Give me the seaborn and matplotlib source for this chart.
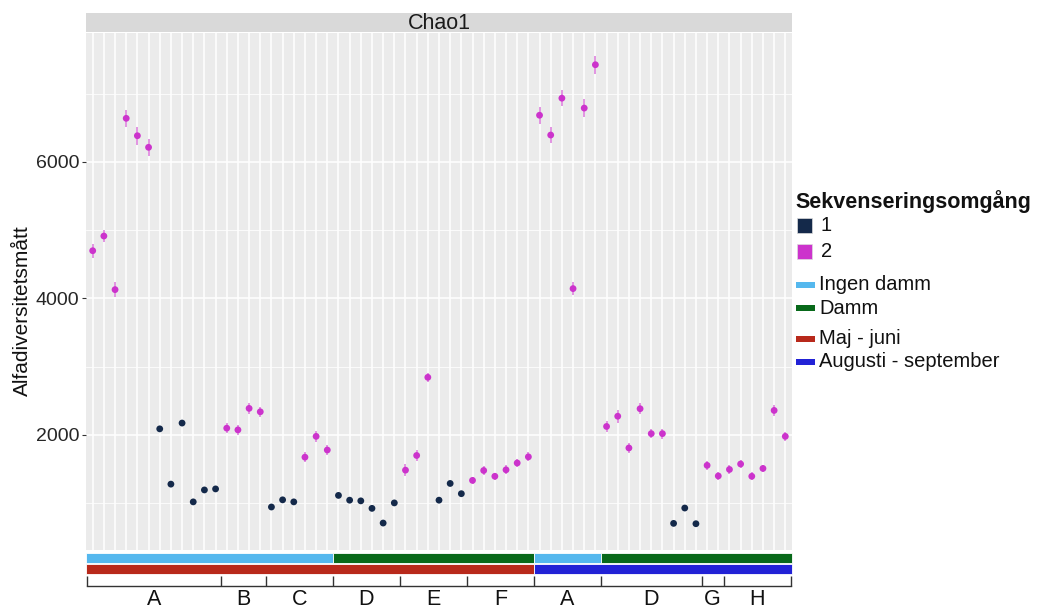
import numpy as np
import pandas as pd
import matplotlib
matplotlib.use("Agg")
import matplotlib.pyplot as plt
from matplotlib.patches import Rectangle
import seaborn as sns

# ---- data -----------------------------------------------------------------
groups = ["A", "B", "C", "D", "E", "F", "A", "D", "G", "H"]
group_sizes = [12, 4, 6, 6, 6, 6, 6, 9, 2, 6]

chao1 = [
    4700, 4915, 4130, 6640, 6385, 6215, 2090, 1280, 2175, 1020, 1195, 1210,  # A
    2100, 2075, 2390, 2340,                                                # B
    945, 1050, 1020, 1675, 1980, 1780,                                     # C
    1115, 1045, 1035, 925, 710, 1005,                                      # D
    1485, 1700, 2845, 1045, 1290, 1140,                                    # E
    1335, 1480, 1395, 1490, 1590, 1680,                                    # F
    6685, 6395, 6935, 4145, 6790, 7425,                                    # A
    2125, 2275, 1810, 2385, 2020, 2020, 705, 930, 700,                     # D
    1555, 1400,                                                            # G
    1495, 1575, 1395, 1510, 2360, 1980,                                    # H
]
chao1_se = [
    100, 90, 105, 125, 130, 125, 25, 25, 35, 20, 30, 30,
    75, 70, 85, 75,
    20, 25, 20, 75, 80, 70,
    25, 20, 20, 20, 20, 20,
    85, 80, 70, 20, 40, 25,
    55, 65, 55, 65, 60, 65,
    125, 120, 120, 100, 130, 135,
    80, 95, 75, 80, 70, 75, 20, 20, 20,
    65, 55,
    60, 65, 60, 55, 75, 65,
]
seq_round = (
    [2] * 6 + [1] * 6 +
    [2] * 4 +
    [1] * 3 + [2] * 3 +
    [1] * 6 +
    [2] * 3 + [1] * 3 +
    [2] * 6 +
    [2] * 6 +
    [2] * 6 + [1] * 3 +
    [2] * 2 +
    [2] * 6
)
# pond / season annotation rows: (label, number of samples)
pond_runs = [("Ingen damm", 22), ("Damm", 18), ("Ingen damm", 6), ("Damm", 23)]
season_runs = [("Maj - juni", 40), ("Augusti - september", 23)]

round_colors = {1: "#14294A", 2: "#CC33CC"}
pond_colors = {"Ingen damm": "#55B8EE", "Damm": "#08691A"}
season_colors = {"Maj - juni": "#B8291B", "Augusti - september": "#2222D6"}

n = len(chao1)
df = pd.DataFrame({
    "pos": np.arange(1, n + 1),
    "chao1": chao1,
    "se": chao1_se,
    "round": seq_round,
})

# ---- layout ---------------------------------------------------------------
W, H = 1040, 609
plt.rcParams["font.family"] = ["Liberation Sans", "DejaVu Sans"]
fig = plt.figure(figsize=(W / 100, H / 100), dpi=100)


def rect(x0, y0, x1, y1):
    return [x0 / W, 1 - y1 / H, (x1 - x0) / W, (y1 - y0) / H]


def fpt(x, y):
    return x / W, 1 - y / H


xlim = (0.4, n + 0.6)
text_col = "#262626"

ax = fig.add_axes(rect(86, 33, 792, 550))
ax.set_facecolor("#EBEBEB")
for s in ax.spines.values():
    s.set_visible(False)

for rnd, sub in df.groupby("round"):
    ax.errorbar(sub["pos"], sub["chao1"], yerr=sub["se"], fmt="none",
                ecolor=round_colors[rnd], elinewidth=1.2, alpha=0.6,
                capsize=0, zorder=3)
sns.scatterplot(data=df, x="pos", y="chao1", hue="round", palette=round_colors,
                s=24, edgecolor="none", linewidth=0, legend=False, ax=ax,
                zorder=4)

ax.set_xlim(*xlim)
ax.set_ylim(315, 7890)
ax.set_xticks(np.arange(1, n + 1))
ax.set_yticks([2000, 4000, 6000])
ax.set_yticks([1000, 3000, 5000, 7000], minor=True)
ax.grid(which="major", color="white", linewidth=1.1)
ax.grid(which="minor", axis="y", color="white", linewidth=0.55)
ax.set_axisbelow(True)
ax.tick_params(axis="x", length=0, labelbottom=False)
ax.tick_params(axis="y", which="major", length=3, width=0.8, color="#333333",
               labelsize=14, labelcolor=text_col, pad=2)
ax.tick_params(axis="y", which="minor", length=0)
ax.set_xlabel("")
ax.set_ylabel("")

# facet strip
strip = fig.add_axes(rect(86, 13, 792, 32))
strip.set_facecolor("#D9D9D9")
strip.set_xticks([])
strip.set_yticks([])
for s in strip.spines.values():
    s.set_visible(False)
strip.text(0.5, 0.47, "Chao1", ha="center", va="center", fontsize=15.5,
           color="#1A1A1A", transform=strip.transAxes)

# annotation rows below the panel
ann = fig.add_axes(rect(86, 552, 792, 575))
ann.set_xlim(*xlim)
ann.set_ylim(0, 2)
ann.axis("off")


def draw_runs(runs, colors, y0, h):
    start = xlim[0]
    total = 0
    for i, (lab, cnt) in enumerate(runs):
        total += cnt
        end = xlim[1] if i == len(runs) - 1 else total + 0.5
        ann.broken_barh([(start, end - start)], (y0, h), facecolor=colors[lab],
                        edgecolor="white", linewidth=0.6)
        start = end


draw_runs(pond_runs, pond_colors, 1.08, 0.82)
draw_runs(season_runs, season_colors, 0.1, 0.82)

# group axis
gax = fig.add_axes(rect(86, 560, 792, 586))
gax.set_xlim(*xlim)
gax.set_ylim(0, 1)
gax.patch.set_visible(False)
for k in ["top", "left", "right"]:
    gax.spines[k].set_visible(False)
bounds = np.concatenate([[0.5], np.cumsum(group_sizes) + 0.5])
gax.spines["bottom"].set_bounds(bounds[0], bounds[-1])
gax.spines["bottom"].set_color("#333333")
gax.spines["bottom"].set_linewidth(1.0)
centers = (bounds[:-1] + bounds[1:]) / 2
gax.set_xticks(bounds)
gax.set_xticklabels([])
gax.set_xticks(centers, minor=True)
gax.set_xticklabels(groups, minor=True)
gax.tick_params(axis="x", which="major", direction="in", length=7,
                width=1.0, color="#333333")
gax.tick_params(axis="x", which="minor", length=0, labelsize=15.5,
                labelcolor="#111111", pad=2.5)
gax.set_yticks([])

# y axis title
fig.text(*fpt(22, 311), "Alfadiversitetsmått", rotation=90, ha="center",
         va="center", fontsize=15, color="#111111")

# legend
fig.text(*fpt(795, 201.5), "Sekvenseringsomgång", ha="left", va="center",
         fontsize=15.5, fontweight="bold", color="#111111")
for rnd, yc in [(1, 225.5), (2, 251)]:
    x0, y0 = fpt(797, yc + 7.5)
    fig.add_artist(Rectangle((x0, y0), 15 / W, 15 / H, transform=fig.transFigure,
                             facecolor=round_colors[rnd], edgecolor="#DDDDDD",
                             linewidth=0.5))
    fig.text(*fpt(821, yc), str(rnd), ha="left", va="center", fontsize=14.5,
             color="#111111")
for lab, yc, col in [("Ingen damm", 285, pond_colors["Ingen damm"]),
                     ("Damm", 308, pond_colors["Damm"]),
                     ("Maj - juni", 338.5, season_colors["Maj - juni"]),
                     ("Augusti - september", 361.5,
                      season_colors["Augusti - september"])]:
    x0, y0 = fpt(796, yc + 3)
    fig.add_artist(Rectangle((x0, y0), 19 / W, 6 / H, transform=fig.transFigure,
                             facecolor=col, edgecolor="none"))
    fig.text(*fpt(819, yc), lab, ha="left", va="center", fontsize=14.5,
             color="#111111")

fig.savefig("out.png", dpi=100)
